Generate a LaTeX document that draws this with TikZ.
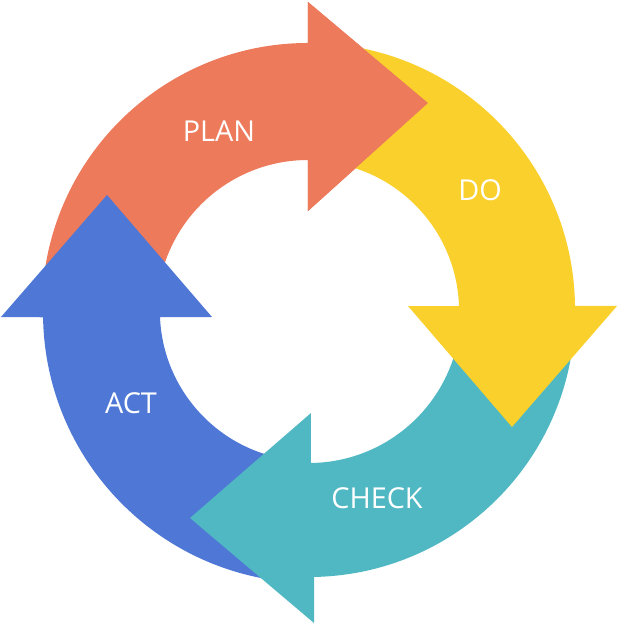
\documentclass[tikz,border=0pt]{standalone}
\usepackage{fontspec}
\setmainfont{Open Sans}
\definecolor{planred}{HTML}{EC7A5B}
\definecolor{doyellow}{HTML}{F9D02C}
\definecolor{checkteal}{HTML}{50B8C3}
\definecolor{actblue}{HTML}{4F77D6}
\begin{document}
\begin{tikzpicture}[x=0.02cm, y=0.02cm, label/.style = {text=white, font=\fontsize{16.4}{20}\selectfont, inner sep=0pt}]

		\useasboundingbox (-309,-312) rectangle (314,311);

		% each tail runs on under the next head
		\fill[planred] (-266,25.2) arc (175:90:266) -- (-1,309) -- (119,208) -- (-1,100) -- (-1,151) arc (90:175:151) -- cycle;

		\fill[actblue] (-19.5,-271) arc (265:180.9:270) -- (-308,-6) -- (-202,116) -- (-97,-6) -- (-149,-6) arc (182.3:265:150) -- cycle;

		\fill[checkteal] (265,-23.2) arc (-5:-88.9:266) -- (5,-312) -- (-119,-207) -- (2,-102) -- (2,-152) arc (-89.2:-5:152) -- cycle;

		\fill[doyellow] (23.2,267) arc (85:0.7:266) -- (308,5) -- (203,-116) -- (99,5) -- (150,5) arc (1.9:85:150) -- cycle;

		% red head again, over the yellow tail
		\fill[planred] (-1,309) -- (119,208) -- (-1,100) -- cycle;

		\node[label] (plan) at (-90,180) {PLAN};
		\node[label] (do) at (171,121) {DO};
		\node[label] (act) at (-178,-92) {ACT};
		\node[label] (check) at (68,-187) {CHECK};
	\end{tikzpicture}
\end{document}
